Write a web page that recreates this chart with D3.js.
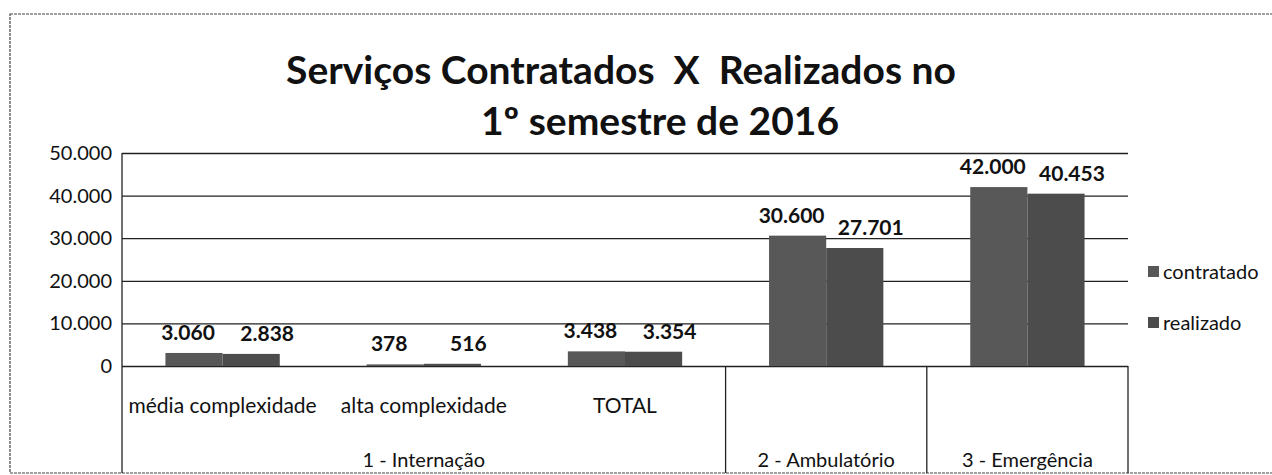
<!DOCTYPE html>
<html>
<head>
<meta charset="utf-8">
<script src="https://cdn.jsdelivr.net/npm/d3@7"></script>
<style>
  body { margin: 0; background: #fff; }
  text { font-family: Lato, "Open Sans", sans-serif; fill: #111; }
</style>
</head>
<body>
<div id="chart"></div>
<script>
// dữ liệu
const categories = ["média complexidade", "alta complexidade", "TOTAL", "2 - Ambulatório", "3 - Emergência"];
const catLabels = ["média complexidade", "alta complexidade", "TOTAL", "", ""];
const groupOf = ["1 - Internação", "1 - Internação", "1 - Internação", "2 - Ambulatório", "3 - Emergência"];
const series = ["contratado", "realizado"];
const contratado = [3060, 378, 3438, 30600, 42000];
const realizado = [2838, 516, 3354, 27701, 40453];
const yTicks = [0, 10000, 20000, 30000, 40000, 50000];
const titleLines = ["Serviços Contratados  X  Realizados no", "1º semestre de 2016"];

const W = 1272, H = 475;
const plot = { left: 122, right: 1128, top: 153, bottom: 366 };
const frameBottom = 473;

const svg = d3.select("#chart").append("svg")
  .attr("width", W)
  .attr("height", H);

svg.append("rect").attr("width", W).attr("height", H).attr("fill", "#fff");

// khung ngoài
svg.append("rect")
  .attr("x", 10).attr("y", 14)
  .attr("width", W + 20).attr("height", frameBottom - 14)
  .attr("fill", "none")
  .attr("stroke", "#444")
  .attr("stroke-width", 1.2)
  .attr("stroke-dasharray", "3,1");

const colors = { contratado: "#585858", realizado: "#4c4c4c" };
const labelDx = { contratado: -6, realizado: 16 };

// Scale
const x0 = d3.scaleBand().domain(categories).range([plot.left, plot.right]).padding(0);
const x1 = d3.scaleBand().domain(series).range([0, x0.bandwidth()]).paddingInner(0).paddingOuter(0.76);
const y = d3.scaleLinear().domain([0, 50000]).range([plot.bottom, plot.top]);

const fmt = d3.formatLocale({ decimal: ",", thousands: ".", grouping: [3], currency: ["", ""] }).format(",d");

// Title
svg.append("g").selectAll("text")
  .data(titleLines)
  .enter().append("text")
  .attr("x", (d, i) => i === 0 ? 621 : 660)
  .attr("y", (d, i) => 84 + i * 51)
  .attr("text-anchor", "middle")
  .style("font-weight", "bold")
  .style("font-size", "39px")
  .style("white-space", "pre")
  .text(d => d);

// Gridlines + y axis
const yAxis = svg.append("g")
  .attr("transform", `translate(${plot.left},0)`)
  .call(d3.axisLeft(y).tickValues(yTicks).tickFormat(fmt).tickSize(-(plot.right - plot.left)).tickPadding(10));
yAxis.select(".domain").remove();
yAxis.selectAll(".tick line").attr("stroke", "#222").attr("stroke-width", 1.3);
yAxis.selectAll(".tick text").style("font-size", "20px").style("font-family", "Lato, sans-serif").attr("fill", "#111");

// trục dọc trái kéo xuống khung trục danh mục
svg.append("line")
  .attr("x1", plot.left).attr("x2", plot.left)
  .attr("y1", plot.top).attr("y2", frameBottom)
  .attr("stroke", "#222").attr("stroke-width", 1.3);

// Cột
const rows = categories.map((c, i) => ({ cat: c, values: [
  { key: "contratado", value: contratado[i] },
  { key: "realizado", value: realizado[i] }
]}));

const catG = svg.selectAll(".cat")
  .data(rows)
  .enter().append("g")
  .attr("transform", d => `translate(${x0(d.cat)},0)`);

catG.selectAll("rect")
  .data(d => d.values)
  .enter().append("rect")
  .attr("x", d => x1(d.key))
  .attr("y", d => y(d.value))
  .attr("width", x1.bandwidth())
  .attr("height", d => y(0) - y(d.value))
  .attr("fill", d => colors[d.key]);

// Label
catG.selectAll(".lbl")
  .data(d => d.values)
  .enter().append("text")
  .attr("x", d => x1(d.key) + x1.bandwidth() / 2 + labelDx[d.key])
  .attr("y", d => y(d.value) - 13)
  .attr("text-anchor", "middle")
  .style("font-weight", "bold")
  .style("font-size", "21px")
  .text(d => fmt(d.value));

// Trục danh mục (phân cấp)
const groups = Array.from(d3.group(categories, c => groupOf[categories.indexOf(c)]), ([g, cats]) => ({
  name: g,
  x0: x0(cats[0]),
  x1: x0(cats[cats.length - 1]) + x0.bandwidth()
}));

svg.selectAll(".sep")
  .data(groups)
  .enter().append("line")
  .attr("x1", d => d.x1).attr("x2", d => d.x1)
  .attr("y1", plot.bottom).attr("y2", frameBottom)
  .attr("stroke", "#222").attr("stroke-width", 1.3);

svg.selectAll(".catlbl")
  .data(categories)
  .enter().append("text")
  .attr("x", d => x0(d) + x0.bandwidth() / 2)
  .attr("y", 413)
  .attr("text-anchor", "middle")
  .style("font-size", "21px")
  .text((d, i) => catLabels[i]);

svg.selectAll(".grplbl")
  .data(groups)
  .enter().append("text")
  .attr("x", d => (d.x0 + d.x1) / 2)
  .attr("y", 467)
  .attr("text-anchor", "middle")
  .style("font-size", "20px")
  .text(d => d.name);

// Legend
const legend = svg.selectAll(".legend")
  .data(series)
  .enter().append("g")
  .attr("transform", (d, i) => `translate(1148,${272 + i * 51})`);

legend.append("rect")
  .attr("y", -6)
  .attr("width", 11).attr("height", 11)
  .attr("fill", d => colors[d]);

legend.append("text")
  .attr("x", 15)
  .attr("dy", "0.35em")
  .style("font-size", "20px")
  .text(d => d);
</script>
</body>
</html>
